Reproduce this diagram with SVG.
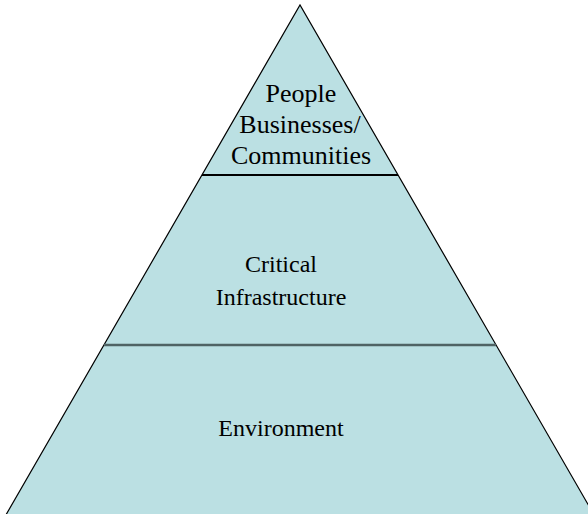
<svg xmlns="http://www.w3.org/2000/svg" width="588" height="514" viewBox="0 0 588 514">
  <style>
    .tier { fill: #BBE0E3; stroke: none; }
    .edge { fill: none; stroke: #000000; stroke-width: 1.2; }
    text { fill: #000000; text-anchor: middle; }
  </style>
  <rect width="588" height="514" fill="#FFFFFF"/>

  <!-- pyramid tiers -->
  <g id="tier-people" font-family="'Liberation Serif', serif" font-size="26">
    <polygon class="tier" points="300,5 202,175 398,175"/>
    <text x="301" y="102">People</text>
    <text x="300" y="133">Businesses/</text>
    <text x="301" y="164">Communities</text>
  </g>
  <g id="tier-infrastructure" font-family="'Liberation Serif', serif" font-size="24">
    <polygon class="tier" points="202,175 398,175 496,345 104,345"/>
    <text x="281" y="272">Critical</text>
    <text x="281" y="305">Infrastructure</text>
  </g>
  <g id="tier-environment" font-family="'Liberation Serif', serif" font-size="24">
    <polygon class="tier" points="104,345 496,345 597,520 3,520"/>
    <text x="281" y="436">Environment</text>
  </g>

  <!-- outline and dividers -->
  <g id="connectors">
    <polyline class="edge" points="3,520 300,5 597,520"/>
    <line x1="202" y1="175" x2="398" y2="175" stroke="#000000" stroke-width="2.2"/>
    <line x1="104" y1="345" x2="496" y2="345" stroke="#4F6364" stroke-width="2.4"/>
  </g>
</svg>
